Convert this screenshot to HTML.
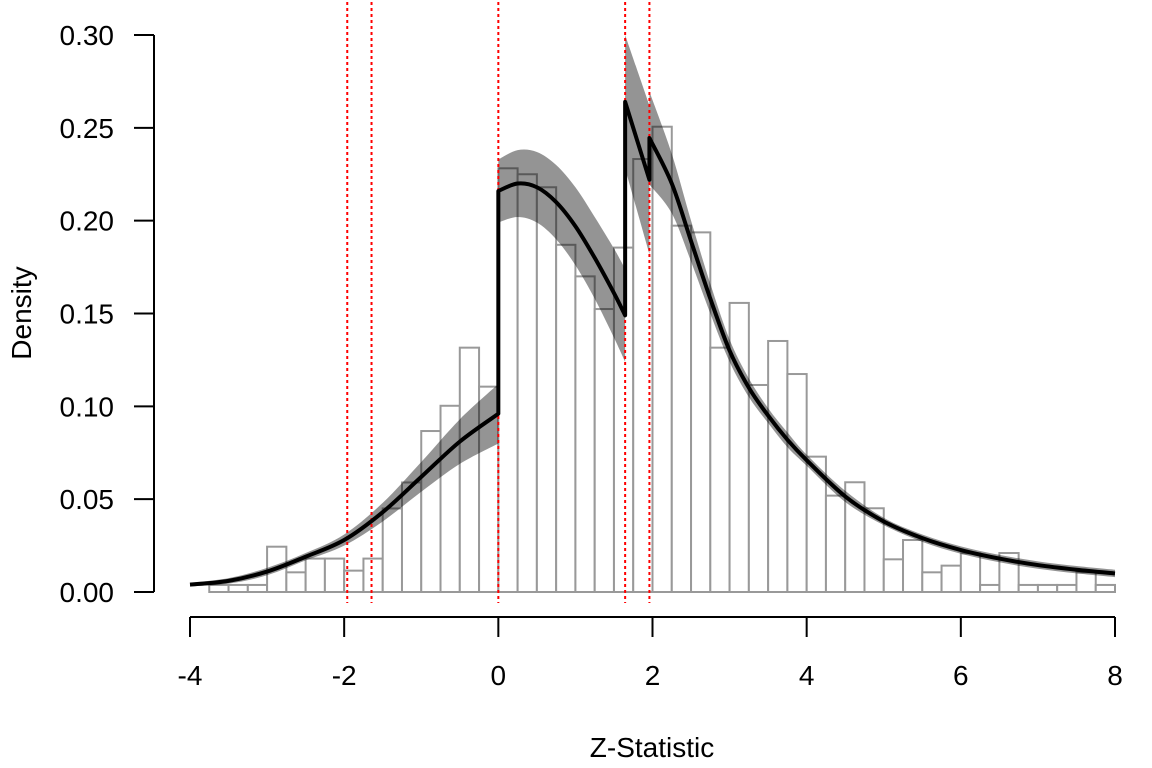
<!DOCTYPE html>
<html><head><meta charset="utf-8"><style>
body{margin:0;background:#fff}
svg{display:block;font-family:"Liberation Sans",Arial,sans-serif}
</style></head><body>
<svg id="chart" width="1152" height="768" viewBox="0 0 1152 768" xmlns="http://www.w3.org/2000/svg">
<g id="bars"></g>
<g id="band"></g>
<g id="refs"></g>
<g id="line"></g>
<g id="axes"></g>
<text x="652" y="757" font-size="28" text-anchor="middle">Z-Statistic</text>
<text x="0" y="0" font-size="28" text-anchor="middle" transform="translate(31,313) rotate(-90)">Density</text>
</svg>
<script>
const binStart = -4, binWidth = 0.25;
const histDensity = [0,0.0038,0.0038,0.0038,0.0244,0.0106,0.018,0.018,0.0115,0.018,0.045,0.059,0.0867,0.1003,0.1316,0.1106,
0.2282,0.225,0.218,0.187,0.170,0.1524,0.1855,0.2332,0.2506,0.1973,0.1937,0.1316,0.1557,0.1115,0.1352,0.1174,
0.0729,0.0519,0.0591,0.0451,0.0176,0.028,0.0106,0.0142,0.0208,0.0038,0.021,0.0038,0.0038,0.0038,0.0106,0.0038];
const seg1X = [-4,-3.5,-3,-2.5,-2,-1.5,-1,-0.5,0];
const seg1Y = [0.004,0.006,0.011,0.019,0.028,0.043,0.062,0.081,0.096];
const seg1H = [0.001,0.0015,0.002,0.002,0.003,0.005,0.008,0.012,0.016];
const seg2X = [0,0.25,0.5,0.75,1,1.25,1.5,1.645];
const seg2Y = [0.216,0.220,0.218,0.210,0.197,0.180,0.161,0.149];
const seg2H = [0.017,0.018,0.019,0.02,0.021,0.022,0.024,0.025];
const seg3X = [1.645,1.96];
const seg3Y = [0.264,0.222];
const seg3H = [0.036,0.04];
const seg4X = [1.96,2.25,2.5,2.75,3,3.25,3.5,3.75,4,4.5,5,5.5,6,6.5,7,7.5,8];
const seg4Y = [0.2445,0.220,0.189,0.158,0.130,0.110,0.095,0.082,0.071,0.0515,0.038,0.029,0.0226,0.018,0.0145,0.012,0.010];
const seg4H = [0.025,0.016,0.011,0.008,0.006,0.005,0.004,0.004,0.003,0.003,0.002,0.002,0.002,0.002,0.002,0.002,0.002];
const refLines = [-1.96,-1.645,0,1.645,1.96];
const xTicks = [-4,-2,0,2,4,6,8];
const yTicks = [0,0.05,0.10,0.15,0.20,0.25,0.30];
const yTickLabels = ["0.00","0.05","0.10","0.15","0.20","0.25","0.30"];

const NS="http://www.w3.org/2000/svg";
const X = v => 190 + (v + 4) * (925/12);
const Y = v => 592 - v * (557/0.30);
function mk(tag, parent, attrs){const e=document.createElementNS(NS,tag);for(const k in attrs)e.setAttribute(k,attrs[k]);document.getElementById(parent).appendChild(e);return e;}
function smooth(pts, start){
  let d = start ? 'M'+pts[0][0]+','+pts[0][1] : 'L'+pts[0][0]+','+pts[0][1];
  for(let i=0;i<pts.length-1;i++){
    const p0=pts[Math.max(0,i-1)],p1=pts[i],p2=pts[i+1],p3=pts[Math.min(pts.length-1,i+2)];
    const c1=[p1[0]+(p2[0]-p0[0])/6,p1[1]+(p2[1]-p0[1])/6];
    const c2=[p2[0]-(p3[0]-p1[0])/6,p2[1]-(p3[1]-p1[1])/6];
    d+=' C'+c1[0]+','+c1[1]+' '+c2[0]+','+c2[1]+' '+p2[0]+','+p2[1];
  }
  return d;
}

histDensity.forEach((d,i)=>{
  const x0=X(binStart+i*binWidth), x1=X(binStart+(i+1)*binWidth);
  const r=mk('rect','bars',{x:x0,y:Y(d),width:x1-x0,height:Y(0)-Y(d),fill:'#fff',stroke:'#999','stroke-width':2});
  
  
});
const segs=[[seg1X,seg1Y,seg1H],[seg2X,seg2Y,seg2H],[seg3X,seg3Y,seg3H],[seg4X,seg4Y,seg4H]];
let lineD='';
segs.forEach(([xs,ys,hs],si)=>{
  const up=xs.map((x,i)=>[X(x),Y(ys[i]+hs[i])]);
  const lo=xs.map((x,i)=>[X(x),Y(ys[i]-hs[i])]).reverse();
  const p=mk('path','band',{d:smooth(up,true)+' '+smooth(lo,false)+' Z',fill:'rgba(0,0,0,0.42)'});
  
  
  lineD+=smooth(xs.map((x,i)=>[X(x),Y(ys[i])]), si===0)+' ';
});
refLines.forEach(v=>{
  const l=mk('line','refs',{x1:X(v),x2:X(v),y1:2,y2:603,stroke:'#f00','stroke-width':2,'stroke-dasharray':'3,3'});
  
  
});
const pl=mk('path','line',{d:lineD,fill:'none',stroke:'#000','stroke-width':4,'stroke-linejoin':'round'});



mk('line','axes',{x1:154,x2:154,y1:Y(0.30),y2:Y(0),stroke:'#000','stroke-width':2});
yTicks.forEach((v,i)=>{
  mk('line','axes',{x1:134,x2:154,y1:Y(v),y2:Y(v),stroke:'#000','stroke-width':2});
  const t=mk('text','axes',{x:114,y:Y(v)+10,'font-size':28,'text-anchor':'end'});
  t.textContent=yTickLabels[i];
  
  
});
mk('line','axes',{x1:X(-4),x2:X(8),y1:617,y2:617,stroke:'#000','stroke-width':2});
xTicks.forEach(v=>{
  mk('line','axes',{x1:X(v),x2:X(v),y1:617,y2:637,stroke:'#000','stroke-width':2});
  const t=mk('text','axes',{x:X(v),y:685,'font-size':28,'text-anchor':'middle'});
  t.textContent=String(v);
  
  
});
</script>
</body></html>
